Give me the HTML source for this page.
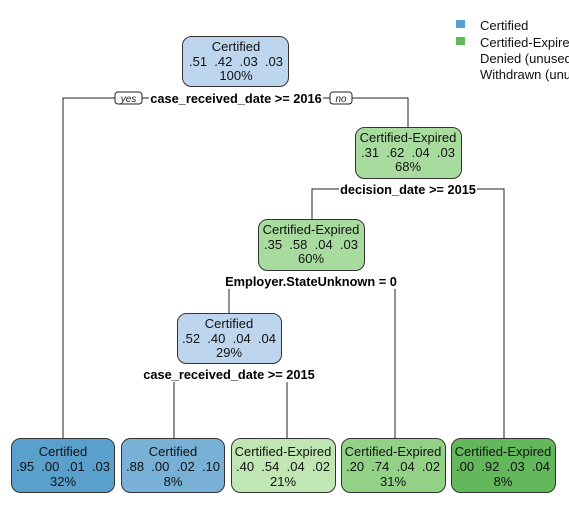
<!DOCTYPE html>
<html><head><meta charset="utf-8"><style>
html,body{margin:0;padding:0;background:#fff;width:569px;height:526px;overflow:hidden}
svg{display:block;font-family:"Liberation Sans",Arial,sans-serif}
</style></head><body>
<svg width="569" height="526" viewBox="0 0 569 526" xmlns="http://www.w3.org/2000/svg">
<g stroke="#222" stroke-width="1" fill="none">
<polyline points="63,438 63,98 408,98 408,127"/>
<polyline points="312,219 312,189 504,189 504,438"/>
<polyline points="229,313 229,281 395,281 395,438"/>
<polyline points="174,438 174,374 287,374 287,438"/>
</g>
<rect x="149" y="90" width="174" height="16" fill="#fff"/>
<rect x="339" y="181" width="138" height="16" fill="#fff"/>
<rect x="225" y="273" width="174" height="16" fill="#fff"/>
<rect x="141" y="366" width="176" height="16" fill="#fff"/>
<rect x="115" y="92" width="27" height="12" rx="3" fill="#fff" stroke="#222"/>
<rect x="330" y="92" width="22" height="12" rx="3" fill="#fff" stroke="#222"/>
<g font-size="10" font-style="italic" text-anchor="middle" fill="#222">
<text x="128.5" y="102">yes</text><text x="341" y="102">no</text></g>
<g font-size="12.8" font-weight="bold" text-anchor="middle" fill="#000">
<text x="236" y="103">case_received_date &gt;= 2016</text>
<text x="408" y="194">decision_date &gt;= 2015</text>
<text x="311" y="286">Employer.StateUnknown = 0</text>
<text x="229" y="379">case_received_date &gt;= 2015</text>
</g>
<g stroke="#333" stroke-width="1">
<rect x="182.5" y="36.5" width="106" height="50" rx="9" fill="#bdd6ee"/>
<rect x="355.5" y="127.5" width="106" height="51" rx="9" fill="#a8dc9e"/>
<rect x="258.5" y="219.5" width="106" height="51" rx="9" fill="#a8dc9e"/>
<rect x="177.5" y="313.5" width="104" height="50" rx="9" fill="#bdd6ee"/>
<rect x="11.5" y="438.5" width="103" height="54" rx="9" fill="#5aa0cc"/>
<rect x="121.5" y="438.5" width="103" height="54" rx="9" fill="#78b0d6"/>
<rect x="231.5" y="438.5" width="104" height="54" rx="9" fill="#c0e6b4"/>
<rect x="341.5" y="438.5" width="104" height="54" rx="9" fill="#93d286"/>
<rect x="451.5" y="438.5" width="104" height="54" rx="9" fill="#62b85a"/>
</g>
<g font-size="13" text-anchor="middle" fill="#111">
<text x="236" y="51">Certified</text><text x="236" y="66" xml:space="preserve">.51  .42  .03  .03</text><text x="236" y="80">100%</text>
<text x="408" y="142">Certified-Expired</text><text x="408" y="157" xml:space="preserve">.31  .62  .04  .03</text><text x="408" y="171">68%</text>
<text x="311" y="234">Certified-Expired</text><text x="311" y="249" xml:space="preserve">.35  .58  .04  .03</text><text x="311" y="263">60%</text>
<text x="229" y="328">Certified</text><text x="229" y="343" xml:space="preserve">.52  .40  .04  .04</text><text x="229" y="357">29%</text>
<text x="63" y="456">Certified</text><text x="63" y="471" xml:space="preserve">.95  .00  .01  .03</text><text x="63" y="486">32%</text>
<text x="173" y="456">Certified</text><text x="173" y="471" xml:space="preserve">.88  .00  .02  .10</text><text x="173" y="486">8%</text>
<text x="283" y="456">Certified-Expired</text><text x="283" y="471" xml:space="preserve">.40  .54  .04  .02</text><text x="283" y="486">21%</text>
<text x="393" y="456">Certified-Expired</text><text x="393" y="471" xml:space="preserve">.20  .74  .04  .02</text><text x="393" y="486">31%</text>
<text x="503" y="456">Certified-Expired</text><text x="503" y="471" xml:space="preserve">.00  .92  .03  .04</text><text x="503" y="486">8%</text>
</g>
<rect x="456" y="20" width="9" height="8" fill="#5aa0cc"/>
<rect x="456" y="37" width="9" height="8" fill="#62b85a"/>
<g font-size="13" fill="#111">
<text x="480" y="30">Certified</text>
<text x="480" y="47">Certified-Expired</text>
<text x="480" y="63">Denied (unused)</text>
<text x="480" y="79">Withdrawn (unused)</text>
</g>
</svg>
</body></html>
